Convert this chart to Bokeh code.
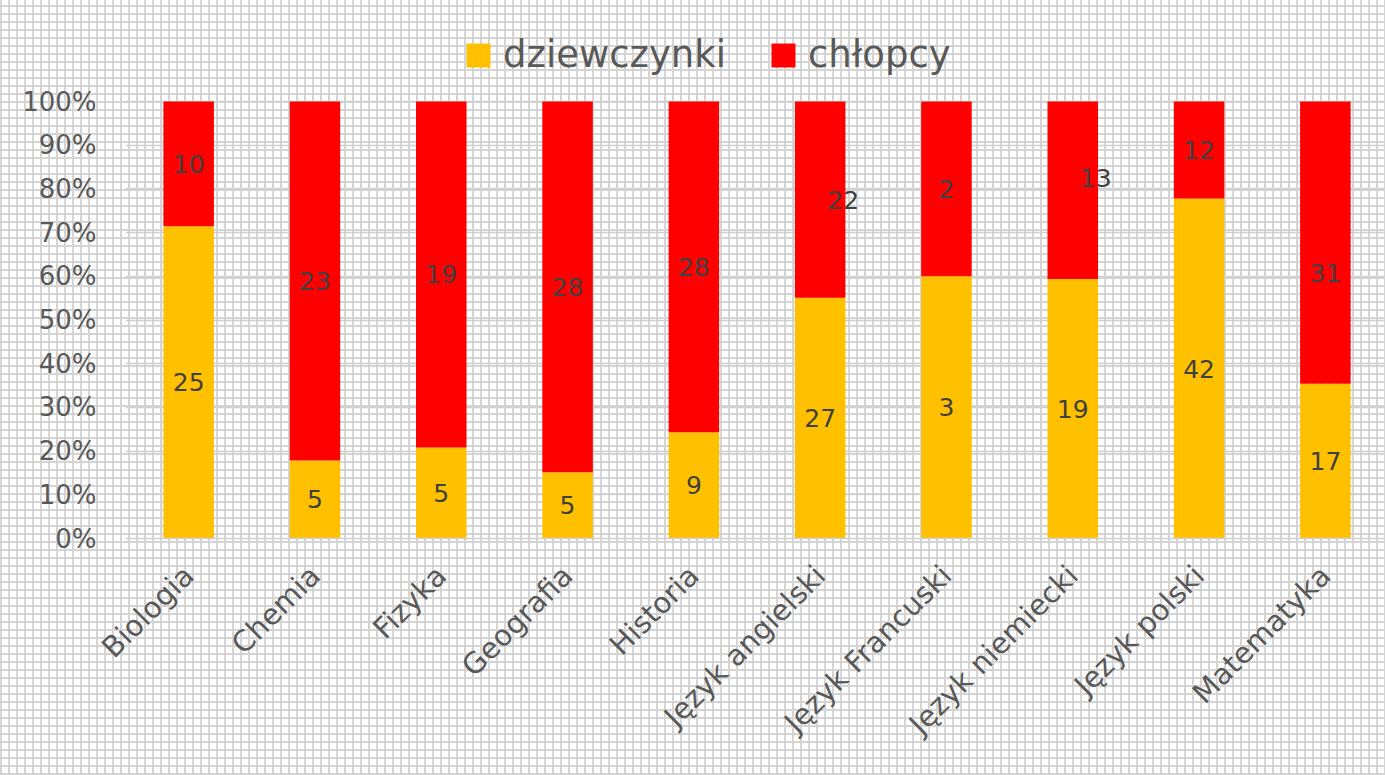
from bokeh.plotting import figure
from bokeh.models import ColumnDataSource, Range1d, FixedTicker, NumeralTickFormatter
from bokeh.core.properties import value
from bokeh.embed import file_html
from bokeh.resources import INLINE
import math

subjects = ["Biologia", "Chemia", "Fizyka", "Geografia", "Historia",
            "Język angielski", "Język Francuski", "Język niemiecki",
            "Język polski", "Matematyka"]
girls = [25, 5, 5, 5, 9, 27, 3, 19, 42, 17]
boys = [10, 23, 19, 28, 28, 22, 2, 13, 12, 31]
series_names = ["dziewczynki", "chłopcy"]
y_ticks = [0, 0.1, 0.2, 0.3, 0.4, 0.5, 0.6, 0.7, 0.8, 0.9, 1.0]

# manual label nudges (pixels) for the boys' labels, as in the original
boys_dx = [0, 0, 0, 0, 0, 23, 0, 23, 0, 0]
boys_dy = [0, 0, 0, 0, 0, 0, 0, -12, 0, 30]

FONT = "DejaVu Sans"
GREY = "#595959"

x = list(range(len(subjects)))
tot = [g + b for g, b in zip(girls, boys)]
gshare = [g / t for g, t in zip(girls, tot)]
bshare = [b / t for b, t in zip(boys, tot)]

src = ColumnDataSource(dict(x=x, g=gshare, b=bshare))

# frame extends to the top of the canvas so the legend sits inside it
p = figure(output_backend="svg", toolbar_location=None,
           frame_width=1260, frame_height=538,
           x_range=Range1d(-0.5, 9.476), y_range=Range1d(0, 538 / 437),
           min_border_left=125, min_border_right=0,
           min_border_top=0, min_border_bottom=237)
p.border_fill_color = None
p.background_fill_color = None
p.outline_line_color = None
p.styles = {
    "background-color": "white",
    "background-image": "linear-gradient(to right, #d4d4d4 0px, #d4d4d4 2px, transparent 2px, transparent 8px), "
                        "linear-gradient(to bottom, #d4d4d4 0px, #d4d4d4 2px, transparent 2px, transparent 8px)",
    "background-size": "8px 8px",
    "background-position": "0px 5px",
}

p.vbar_stack(["g", "b"], x="x", width=0.4, source=src,
             color=["#FFC000", "#FF0000"], line_color=None,
             legend_label=series_names)

# data labels
lab_x = x + x
lab_y = [s / 2 for s in gshare] + [g + b / 2 for g, b in zip(gshare, bshare)]
lab_t = [str(v) for v in girls] + [str(v) for v in boys]
lab_dx = [0] * len(x) + boys_dx
lab_dy = [0] * len(x) + boys_dy
p.text(x=lab_x, y=lab_y, text=lab_t, x_offset=lab_dx, y_offset=lab_dy,
       text_align="center", text_baseline="middle",
       text_font=value(FONT), text_font_size="25px", text_color="#404040")

# axes
p.yaxis.ticker = FixedTicker(ticks=y_ticks)
p.yaxis.formatter = NumeralTickFormatter(format="0%")
p.yaxis.axis_line_color = None
p.yaxis.major_tick_line_color = None
p.yaxis.minor_tick_line_color = None
p.yaxis.major_label_text_font = FONT
p.yaxis.major_label_text_font_size = "26px"
p.yaxis.major_label_text_color = GREY
p.yaxis.major_label_standoff = 23

p.xaxis.ticker = FixedTicker(ticks=x)
p.xaxis.major_label_overrides = {i: s for i, s in enumerate(subjects)}
p.xaxis.major_label_orientation = math.pi / 4
p.xaxis.axis_line_color = "#d0d0d0"
p.xaxis.axis_line_width = 1.5
p.xaxis.major_tick_line_color = None
p.xaxis.minor_tick_line_color = None
p.xaxis.major_label_text_font = FONT
p.xaxis.major_label_text_font_size = "29px"
p.xaxis.major_label_text_color = GREY
p.xaxis.major_label_standoff = 26

p.xgrid.grid_line_color = None
p.ygrid.ticker = FixedTicker(ticks=y_ticks)
p.ygrid.grid_line_color = "#d0d0d0"
p.ygrid.grid_line_width = 1.5

lg = p.legend[0]
lg.orientation = "horizontal"
lg.location = (338, 462)
lg.glyph_width = 30
lg.glyph_height = 30
lg.label_standoff = 10
lg.spacing = 42
lg.padding = 0
lg.margin = 0
lg.border_line_color = None
lg.background_fill_alpha = 0
lg.label_text_font = FONT
lg.label_text_font_size = "37px"
lg.label_text_color = GREY

open("out.html", "w").write(file_html(p, INLINE))
